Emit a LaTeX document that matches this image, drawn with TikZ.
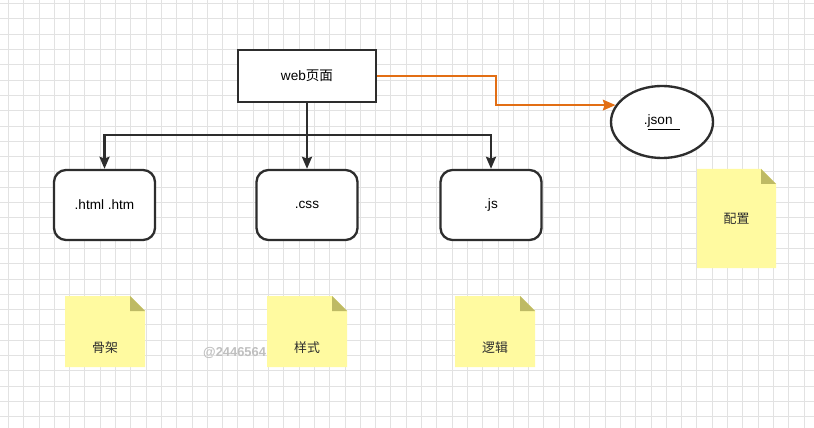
\documentclass[tikz,border=0pt]{standalone}
\usepackage{fontspec}
\setmainfont{Liberation Sans}
\newfontfamily\cjk{Noto Sans CJK SC}
\usetikzlibrary{arrows.meta,shapes.geometric}
\definecolor{ink}{RGB}{45,45,45}
\definecolor{gridgray}{RGB}{226,226,226}
\definecolor{linkorange}{RGB}{226,110,20}
\definecolor{notefill}{RGB}{255,250,160}
\definecolor{notefold}{RGB}{190,186,100}
\tikzset{
  pagebox/.style={draw=ink, line width=2pt, fill=white, minimum width=4.14cm, minimum height=1.56cm},
  filebox/.style={draw=ink, line width=2pt, fill=white, rounded corners=0.36cm, minimum width=3.03cm, minimum height=2.1cm},
  link/.style={draw=ink, line width=2pt, -{Stealth[length=3.6mm,width=3mm,inset=0.5mm]}},
  orangelink/.style={draw=linkorange, line width=1.8pt, -{Stealth[length=3.8mm,width=3.2mm,inset=0.5mm]}},
  notetext/.style={font=\cjk\fontsize{11}{13}\selectfont, text=ink}
}
\begin{document}
\begin{tikzpicture}[x=0.03cm, y=-0.03cm, font=\fontsize{11.6}{14}\selectfont]
\useasboundingbox[fill=white] (0,0) rectangle (814,428);
% background grid, about 15.3px cells
\foreach \i in {0,...,52} \draw[gridgray, line width=0.6pt] ({8.3+15.3*\i},0) -- ++(0,428);
\foreach \j in {0,...,27} \draw[gridgray, line width=0.6pt] (0,{3.5+15.3*\j}) -- ++(814,0);
% watermark
\node[text=black!25, font=\bfseries\fontsize{11}{13}\selectfont, anchor=west, inner sep=0pt] (mark) at (203,353) {@2446564};
% sticky notes: x, y, w, h, label, text y
\def\F{15}
\foreach \x/\y/\w/\h/\lbl/\ty/\nm in {65/296/80/71/骨架/348/skel, 267/296/80/71/样式/348/style, 455/296/80/71/逻辑/348/logic, 697/169/79/99/配置/219/conf}{
  \fill[notefill] (\x,\y) -- ({\x+\w-\F},\y) -- ({\x+\w},{\y+\F}) -- ({\x+\w},{\y+\h}) -- (\x,{\y+\h}) -- cycle;
  \fill[notefold] ({\x+\w-\F},\y) -- ({\x+\w-\F},{\y+\F}) -- ({\x+\w},{\y+\F}) -- cycle;
  \node[notetext] (\nm) at ({\x+\w/2},\ty) {\lbl};
}
% main nodes
\node[pagebox] (web) at (307,76) {web{\cjk 页面}};
\node[filebox] (html) at (104.5,205) {.html .htm};
\node[filebox] (css) at (307,205) {.css};
\node[filebox] (js) at (491,205) {.js};
\node[ellipse, draw=ink, line width=2pt, fill=white, minimum width=3.06cm, minimum height=2.16cm] (json) at (662,122) {.\underline{json\ \ }};
% connectors
\coordinate (bus) at (307,135);
\coordinate (bend) at (496,105);
\draw[draw=ink, line width=2pt] (web.south) -- (bus);
\draw[link] (bus) -| (html.north);
\draw[link] (bus) -| (js.north);
\draw[link] (bus) -- (css.north);
\draw[orangelink] (web.east) -| (json.160 -| bend) -- (json.160);
\end{tikzpicture}
\end{document}
